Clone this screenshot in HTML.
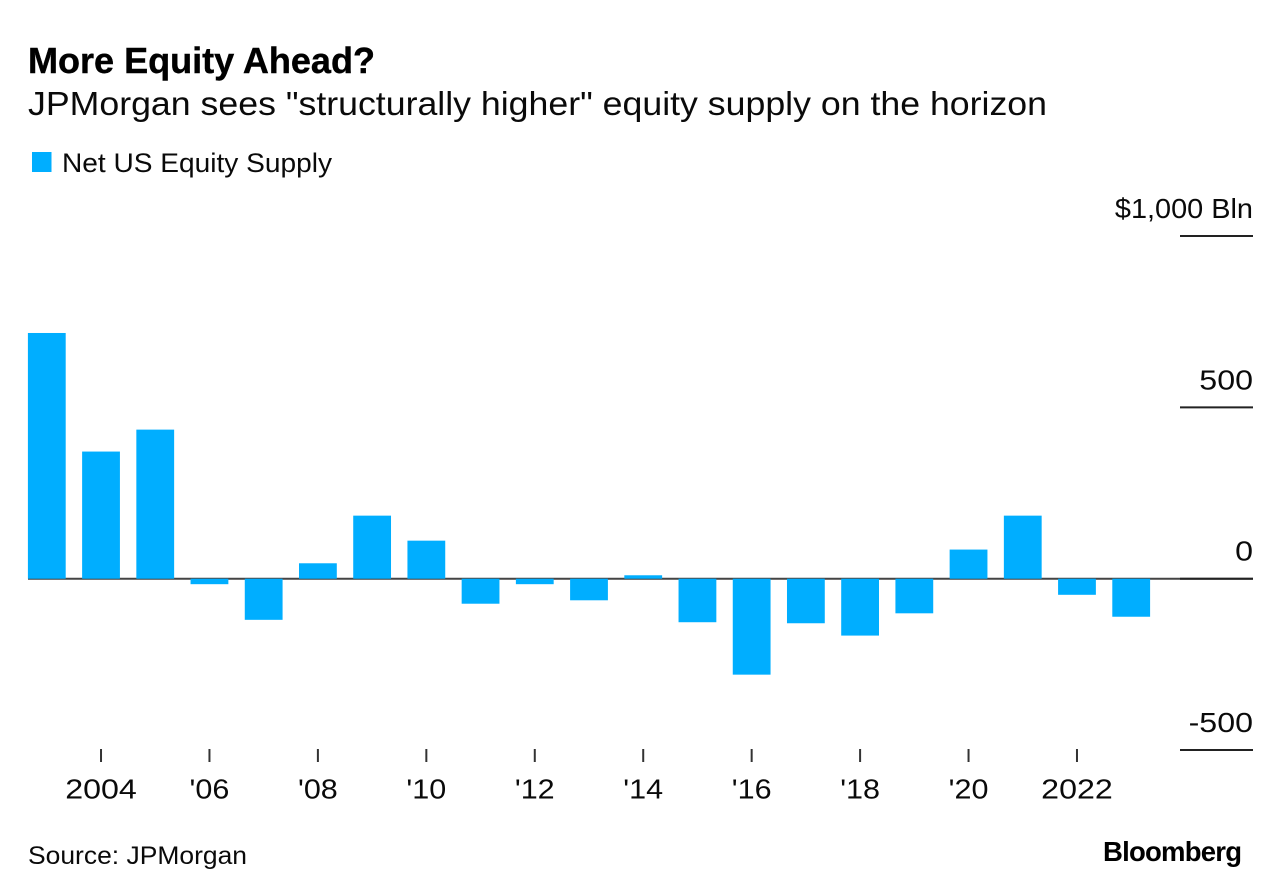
<!DOCTYPE html>
<html lang="en">
<head>
<meta charset="utf-8">
<title>More Equity Ahead?</title>
<style>
html,body{margin:0;padding:0;background:#fff;width:1281px;height:896px;overflow:hidden}
svg{display:block}
text{font-family:"Liberation Sans",sans-serif;fill:#0a0a0a}
</style>
</head>
<body>
<svg id="chart" width="1281" height="896" viewBox="0 0 1281 896" xmlns="http://www.w3.org/2000/svg">
  <text x="28" y="73" font-size="36" font-weight="700" textLength="347" lengthAdjust="spacingAndGlyphs" style="fill:#000;stroke:#000;stroke-width:0.4">More Equity Ahead?</text>
  <text x="28" y="115" font-size="33" textLength="1019" lengthAdjust="spacingAndGlyphs">JPMorgan sees "structurally higher" equity supply on the horizon</text>
  <rect x="32" y="152" width="19.5" height="20" fill="#00aeff"/>
  <text x="62" y="172" font-size="27" textLength="270" lengthAdjust="spacingAndGlyphs">Net US Equity Supply</text>
  <g id="y-axis"></g>
  <g id="x-axis"></g>
  <g id="bars"></g>
  <text x="28" y="864" font-size="25" textLength="219" lengthAdjust="spacingAndGlyphs">Source: JPMorgan</text>
  <text x="1103" y="861" font-size="27.5" font-weight="700" textLength="139" lengthAdjust="spacing" style="fill:#000">Bloomberg</text>
</svg>
<script>
const years = [2003,2004,2005,2006,2007,2008,2009,2010,2011,2012,2013,2014,2015,2016,2017,2018,2019,2020,2021,2022,2023];
const netSupply = [717,371,435,-16,-120,45,184,111,-73,-16,-63,10,-127,-280,-130,-166,-101,85,184,-47,-111];
const yTickValues = [1000,500,0,-500];
const yTickLabels = ['$1,000 Bln','500','0','-500'];
const xTickYears = [2004,2006,2008,2010,2012,2014,2016,2018,2020,2022];
const xTickLabels = ['2004',"'06","'08","'10","'12","'14","'16","'18","'20",'2022'];

const SVG_NS = 'http://www.w3.org/2000/svg';
const xScale = function (year) {
  const x0 = 46.8, x1 = 1131.2;
  return x0 + (year - years[0]) / (years[years.length - 1] - years[0]) * (x1 - x0);
};
const yScale = function (value) {
  return 578.7 - value * 0.3427;
};
function make(tag, attrs, parent) {
  const el = document.createElementNS(SVG_NS, tag);
  for (const key in attrs) el.setAttribute(key, attrs[key]);
  parent.appendChild(el);
  return el;
}
/* The reference typeface has wider numerals than Liberation Sans. */
function widen(label) {
  const text = label.textContent;
  const factor = /^[-\d]+$/.test(text) ? 1.17 : (text.charAt(0) === "'" ? 1.11 : 1.05);
  label.setAttribute('lengthAdjust', 'spacingAndGlyphs');
  label.setAttribute('textLength', label.getComputedTextLength() * factor);
}

const yAxis = document.getElementById('y-axis');
const xAxis = document.getElementById('x-axis');
const barsGroup = document.getElementById('bars');

const zeroLine = make('line', {x1: 28, x2: 1253, y1: yScale(0), y2: yScale(0), stroke: '#444', 'stroke-width': 2}, yAxis);



yTickValues.forEach(function (value, i) {
  const y = yScale(value);
  const tick = make('line', {x1: 1180, x2: 1253, y1: y, y2: y, stroke: '#222', 'stroke-width': 2}, yAxis);
  
  
  const label = make('text', {x: 1253, y: y - 18, 'font-size': 27.5, 'text-anchor': 'end'}, yAxis);
  
  
  label.textContent = yTickLabels[i];
  widen(label);
});

xTickYears.forEach(function (year, i) {
  const x = xScale(year);
  const tick = make('line', {x1: x, x2: x, y1: 749, y2: 762, stroke: '#333', 'stroke-width': 2}, xAxis);
  
  
  const label = make('text', {x: x, y: 798.5, 'font-size': 27.5, 'text-anchor': 'middle'}, xAxis);
  
  
  label.textContent = xTickLabels[i];
  widen(label);
});

years.forEach(function (year, i) {
  const value = netSupply[i];
  const yTop = yScale(Math.max(value, 0));
  const yBottom = yScale(Math.min(value, 0));
  const bar = make('rect', {x: xScale(year) - 18.9, y: yTop, width: 37.8, height: yBottom - yTop, fill: '#00aeff'}, barsGroup);
  
  
});
</script>
</body>
</html>
